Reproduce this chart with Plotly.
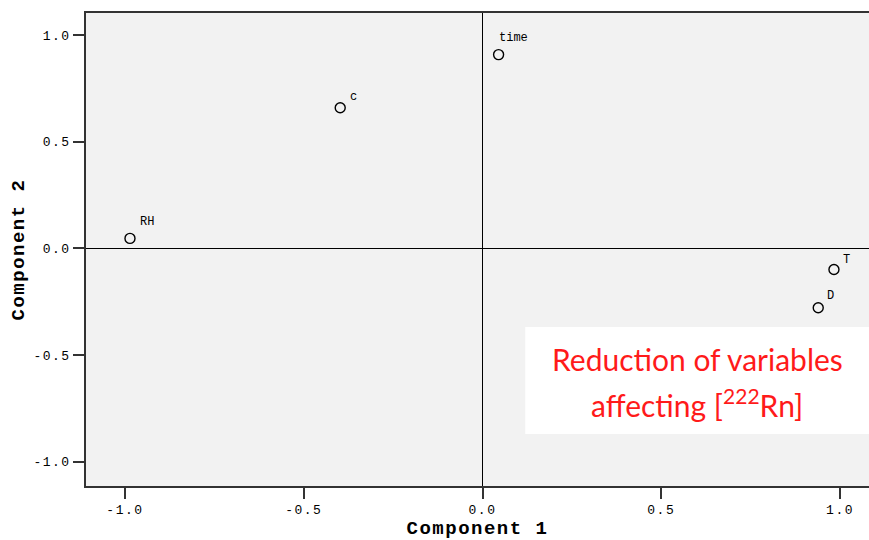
import plotly.graph_objects as go

variables = ["RH", "c", "time", "T", "D"]
component1 = [-0.986, -0.398, 0.045, 0.983, 0.939]
component2 = [0.047, 0.659, 0.908, -0.099, -0.278]
tick_vals = [-1.0, -0.5, 0.0, 0.5, 1.0]
tick_text = ["-1.0", "-0.5", "0.0", "0.5", "1.0"]

# label offsets in pixels: (left edge from marker, vertical centre above marker)
label_shift = {"RH": (8, 16), "c": (8, 11), "time": (-2, 17), "T": (7, 10), "D": (7, 12)}

mono = "Liberation Mono"

fig = go.Figure()
fig.add_trace(go.Scatter(
    x=component1, y=component2, mode="markers",
    marker=dict(symbol="circle-open", size=10, color="black", line=dict(width=1.4, color="black")),
    hoverinfo="skip", showlegend=False,
))

for name, xv, yv in zip(variables, component1, component2):
    dx, dy = label_shift[name]
    fig.add_annotation(x=xv, y=yv, text=name, showarrow=False, xanchor="left", yanchor="middle",
                       xshift=dx, yshift=dy, font=dict(family=mono, size=12, color="black"))

# white info box (paper coords relative to plot area: x 86..869, y 13..486)
fig.add_shape(type="rect", xref="paper", yref="paper", x0=0.561, x1=1.0, y0=0.110, y1=0.336,
              fillcolor="white", line=dict(width=0), layer="above")
fig.add_annotation(xref="paper", yref="paper", x=0.7805, y=0.269, xanchor="center", yanchor="middle",
                   showarrow=False, text="Reduction of variables",
                   font=dict(family="Lato", size=30, color="#ff1a1a"))
fig.add_annotation(xref="paper", yref="paper", x=0.7805, y=0.176, xanchor="center", yanchor="middle",
                   showarrow=False, text="affecting [<sup>222</sup>Rn]",
                   font=dict(family="Lato", size=30, color="#ff1a1a"))

axis_common = dict(
    tickmode="array", tickvals=tick_vals, ticktext=tick_text,
    ticks="outside", ticklen=11, tickwidth=1.5, tickcolor="#333",
    showgrid=False, showline=True, linecolor="#333", linewidth=1.5, mirror=True,
    zeroline=True, zerolinecolor="black", zerolinewidth=1,
    tickfont=dict(family=mono, size=13, color="black"),
    automargin=False,
)

fig.update_layout(
    width=869, height=540,
    margin=dict(l=86, r=0, t=13, b=54),
    paper_bgcolor="white", plot_bgcolor="#f2f2f2",
    xaxis=dict(range=[-1.109, 1.081], title=dict(text="<b>Component 1</b>", standoff=12,
               font=dict(family=mono, size=19, color="black")), **axis_common),
    yaxis=dict(range=[-1.113, 1.103], title=dict(text="<b>Component 2</b>", standoff=10,
               font=dict(family=mono, size=19, color="black")), **axis_common),
)

post = """
document.body.style.margin = '0';
var gd = document.getElementById('{plot_id}');
function spaceText() {
  gd.querySelectorAll('.xtick text, .ytick text').forEach(function (t) { t.style.letterSpacing = '1.5px'; });
  gd.querySelectorAll('.g-xtitle text, .g-ytitle text').forEach(function (t) { t.style.letterSpacing = '1.5px'; });
}
spaceText();
gd.on('plotly_afterplot', spaceText);
"""

fig.write_html("out.html", post_script=post, config={"displayModeBar": False})
